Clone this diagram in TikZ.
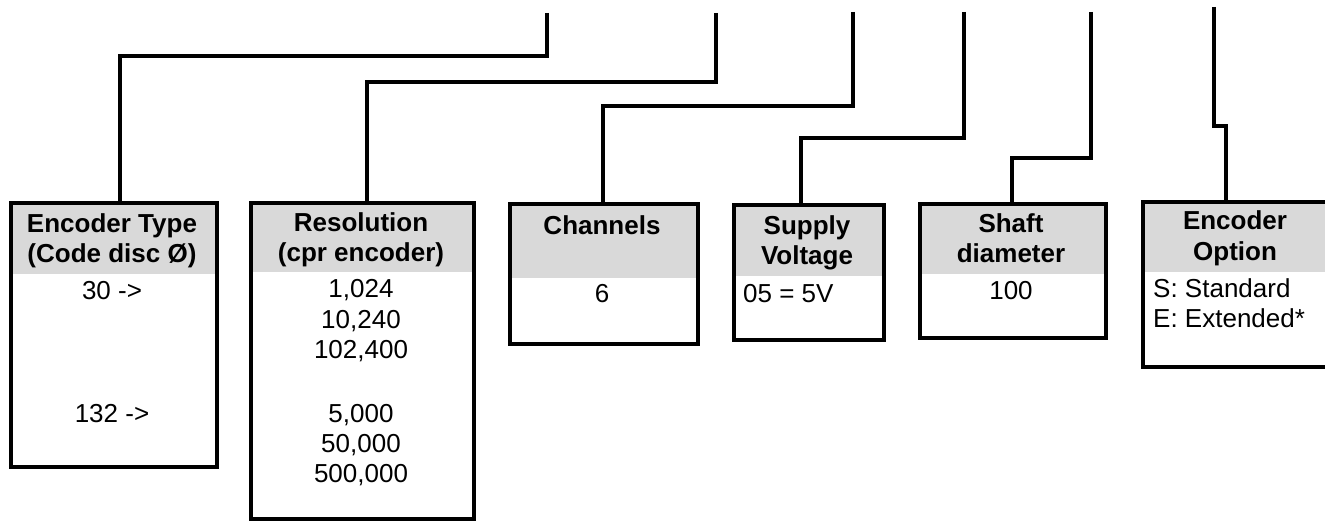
\documentclass[tikz,border=0pt]{standalone}
\usepackage{fontspec}
\setmainfont{Liberation Sans}
\definecolor{hdrgray}{HTML}{D9D9D9}
\begin{document}
\begin{tikzpicture}[x=1pt,y=-1pt,
  box/.style={draw, line width=4pt, anchor=north west, inner sep=0pt},
  conn/.style={line width=3.5pt},
  hd/.style={font=\fontsize{26}{30}\selectfont\bfseries, anchor=base, inner sep=0pt},
  tx/.style={font=\fontsize{26}{30}\selectfont, anchor=base, inner sep=0pt},
  txl/.style={tx, anchor=base west},
]
\useasboundingbox (0,0) rectangle (1325,521);
% header fills
\fill[hdrgray] (9,201) rectangle (215,274);
\fill[hdrgray] (249,201) rectangle (472,272);
\fill[hdrgray] (508,202) rectangle (696,278);
\fill[hdrgray] (732,203) rectangle (882,276);
\fill[hdrgray] (918,202) rectangle (1104,274);
\fill[hdrgray] (1141,200) rectangle (1331,272);
% boxes
\node[box, minimum width=206pt, minimum height=264pt] (b1) at (9,201) {};
\node[box, minimum width=223pt, minimum height=316pt] (b2) at (249,201) {};
\node[box, minimum width=188pt, minimum height=140pt] (b3) at (508,202) {};
\node[box, minimum width=150pt, minimum height=135pt] (b4) at (732,203) {};
\node[box, minimum width=186pt, minimum height=134pt] (b5) at (918,202) {};
\node[box, minimum width=190pt, minimum height=165pt] (b6) at (1141,200) {};
% connector points
\coordinate (t1) at (547,13);  \coordinate (k1) at (120,56);
\coordinate (t2) at (716,13);  \coordinate (k2) at (367,82);
\coordinate (t3) at (853,12);  \coordinate (k3) at (603,106);
\coordinate (t4) at (964,12);  \coordinate (k4) at (801,138);
\coordinate (t5) at (1091,12); \coordinate (k5) at (1012,158);
\coordinate (t6) at (1214,7);  \coordinate (k6) at (1226,126);
\draw[conn] (t1) |- (k1) -- (k1 |- b1.north);
\draw[conn] (t2) |- (k2) -- (k2 |- b2.north);
\draw[conn] (t3) |- (k3) -- (k3 |- b3.north);
\draw[conn] (t4) |- (k4) -- (k4 |- b4.north);
\draw[conn] (t5) |- (k5) -- (k5 |- b5.north);
\draw[conn] (t6) |- (k6) -- (k6 |- b6.north);
% texts box 1
\node[hd] (h1a) at (112,233) {Encoder Type};
\node[hd] (h1b) at (112,263) {(Code disc Ø)};
\node[tx] (v1a) at (112,300) {30 ->};
\node[tx] (v1b) at (112,422) {132 ->};
% box 2
\node[hd] (h2a) at (361,232) {Resolution};
\node[hd] (h2b) at (361,262) {(cpr encoder)};
\node[tx] (v2a) at (361,298) {1,024};
\node[tx] (v2b) at (361,328) {10,240};
\node[tx] (v2c) at (361,358) {102,400};
\node[tx] (v2d) at (361,422) {5,000};
\node[tx] (v2e) at (361,452) {50,000};
\node[tx] (v2f) at (361,482) {500,000};
% box 3
\node[hd] (h3a) at (602,235) {Channels};
\node[tx] (v3a) at (602,303) {6};
% box 4
\node[hd] (h4a) at (807,235) {Supply};
\node[hd] (h4b) at (807,265) {Voltage};
\node[txl] (v4a) at (743,302) {05 = 5V};
% box 5
\node[hd] (h5a) at (1011,233) {Shaft};
\node[hd] (h5b) at (1011,263) {diameter};
\node[tx] (v5a) at (1011,300) {100};
% box 6
\node[hd] (h6a) at (1235,230) {Encoder};
\node[hd] (h6b) at (1235,261) {Option};
\node[txl] (v6a) at (1153,298) {S: Standard};
\node[txl] (v6b) at (1153,327) {E: Extended*};
\end{tikzpicture}
\end{document}
